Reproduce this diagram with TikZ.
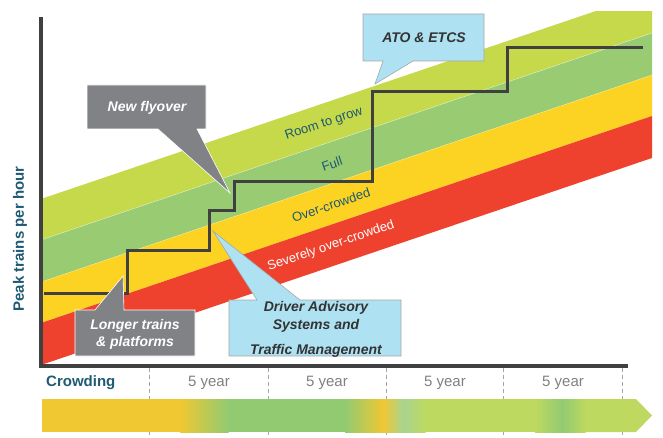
\documentclass[tikz,border=0pt]{standalone}
\usepackage{fontspec}
\setmainfont{Liberation Sans}
\definecolor{cLime}{HTML}{C5D94A}
\definecolor{cGreen}{HTML}{98CB72}
\definecolor{cYellow}{HTML}{FDD323}
\definecolor{cRed}{HTML}{EE422E}
\definecolor{cTeal}{HTML}{1E5A73}
\definecolor{cAxis}{HTML}{404040}
\definecolor{cGrayBox}{HTML}{808285}
\definecolor{cBlueBox}{HTML}{AEE1F2}
\definecolor{gY}{HTML}{F0C832}
\definecolor{gG}{HTML}{92CA72}
\definecolor{gLG}{HTML}{A8D490}
\definecolor{gL}{HTML}{BDD960}
\tikzset{
  bandlabel/.style={text=cTeal,font=\fontsize{13}{15}\selectfont,rotate=18.7,inner sep=0pt},
  axisline/.style={draw=cAxis,line width=3.2pt},
  stepline/.style={draw=cAxis,line width=3pt,line join=miter},
  graybox/.style={fill=cGrayBox,draw=white,line width=0.6pt,line join=miter},
  bluebox/.style={fill=cBlueBox,draw=gray!70,line width=0.6pt,line join=miter},
  whitetext/.style={text=white,font=\fontsize{14}{17}\selectfont\bfseries\itshape,align=center,inner sep=0pt},
  darktext/.style={text=black!80,font=\fontsize{14}{17}\selectfont\bfseries\itshape,align=center,inner sep=0pt},
  yeartext/.style={text=gray,font=\fontsize{15}{17}\selectfont,inner sep=0pt},
  tick/.style={draw=gray!70,line width=0.8pt,dash pattern=on 4pt off 3pt}
}
\begin{document}
\begin{tikzpicture}[x=1pt,y=-1pt]
\useasboundingbox (0,0) rectangle (663,438);
% bands
\begin{scope}
\clip (41,12) rectangle (652,365);
\def\dy{207}
\fill[cLime] (41,199) -- (652,199-\dy) -- (652,240-\dy) -- (41,240) -- cycle;
\fill[cGreen] (41,240) -- (652,240-\dy) -- (652,282-\dy) -- (41,282) -- cycle;
\fill[cYellow] (41,282) -- (652,282-\dy) -- (652,323-\dy) -- (41,323) -- cycle;
\fill[cRed] (41,323) -- (652,323-\dy) -- (652,365-\dy) -- (41,365) -- cycle;
\draw[white,opacity=0.45,line width=0.6pt] (41,240) -- (652,240-\dy);
\draw[white,opacity=0.3,line width=0.6pt] (41,282) -- (652,282-\dy);
\end{scope}
\node[bandlabel] (lroom) at (324,124) {Room to grow};
\node[bandlabel] (lfull) at (332,164) {Full};
\node[bandlabel] (lover) at (331,205) {Over-crowded};
\node[bandlabel,text=white] (lsev) at (331,246) {Severely over-crowded};
% step line
\coordinate (s0) at (44,293);
\coordinate (s1) at (643,48);
\draw[stepline] (s0) -- (127,293) -- (127,250) -- (209,250) -- (209,211) -- (234,211) -- (234,182) -- (372,182) -- (372,92) -- (507,92) -- (507,48) -- (s1);
% axes
\coordinate (ytop) at (41,17);
\coordinate (origin) at (41,366);
\coordinate (xend) at (628,366);
\draw[axisline] (ytop) -- (origin) -- (xend);
\node[text=cTeal,font=\fontsize{15}{17}\selectfont\bfseries,rotate=90,inner sep=0pt] (ylab) at (20,239) {Peak trains per hour};
% callouts
\draw[graybox] (87,85) -- (206,85) -- (206,129) -- (197,129) -- (230,193) -- (158,129) -- (87,129) -- cycle;
\node[whitetext] (flyover) at (147,108) {New flyover};
\draw[bluebox] (363,14) -- (484,14) -- (484,61) -- (413,61) -- (375,84) -- (383,61) -- (363,61) -- cycle;
\node[darktext] (ato) at (424,38) {ATO \& ETCS};
\draw[graybox] (75,310) -- (95,310) -- (123,276) -- (124,310) -- (195,310) -- (195,356) -- (75,356) -- cycle;
\node[whitetext] (longer) at (135,334) {Longer trains\\\& platforms};
\draw[bluebox] (229,300) -- (257,300) -- (213,231) -- (300,300) -- (401,300) -- (401,356) -- (229,356) -- cycle;
\node[darktext] (das1) at (316,308) {Driver Advisory};
\node[darktext] (das2) at (316,326) {Systems and};
\node[darktext] (das3) at (316,351) {Traffic Management};
% timeline row
\foreach \x in {149,268,386,503,622} {\draw[tick] (\x,368) -- (\x,438);}
\node[text=cTeal,font=\fontsize{15}{17}\selectfont\bfseries,anchor=west,inner sep=0pt] (crowd) at (46,383) {Crowding};
\foreach \x/\n in {209/y1,327/y2,445/y3,563/y4} {\node[yeartext] (\n) at (\x,383) {5 year};}
% gradient arrow bar
\fill[gY] (42,399) rectangle (180.5,432);
\shade[left color=gY,right color=gG] (180,399) rectangle (228.5,432);
\fill[gG] (228,399) rectangle (345.5,432);
\shade[left color=gG,right color=gY] (345,399) rectangle (383.5,432);
\shade[left color=gY,right color=gLG] (383,399) rectangle (403.5,432);
\shade[left color=gLG,right color=gL] (403,399) rectangle (425.5,432);
\fill[gL] (425,399) rectangle (535.5,432);
\shade[left color=gL,right color=gG] (535,399) rectangle (562.5,432);
\shade[left color=gG,right color=gL] (562,399) rectangle (585.5,432);
\fill[gL] (585,399) -- (636,399) -- (652,415.5) -- (636,432) -- (585,432) -- cycle;
\end{tikzpicture}
\end{document}
